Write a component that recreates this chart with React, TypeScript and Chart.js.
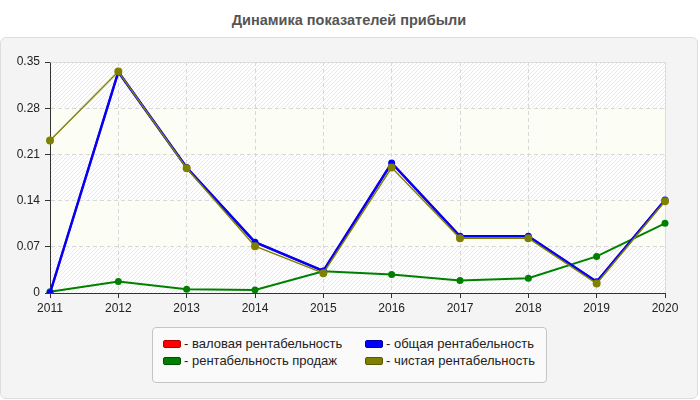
import { useEffect, useRef } from "react";
import { Chart, registerables } from "chart.js";

Chart.register(...registerables);

const YEARS = ["2011", "2012", "2013", "2014", "2015", "2016", "2017", "2018", "2019", "2020"];
// валовая рентабельность is hidden under the blue line in the picture
const GROSS = [0, 0.335, 0.19, 0.077, 0.0335, 0.197, 0.086, 0.086, 0.017, 0.141];
const TOTAL = [0, 0.335, 0.19, 0.077, 0.0335, 0.197, 0.086, 0.086, 0.017, 0.141];
const SALES = [0.002, 0.0173, 0.0056, 0.0046, 0.033, 0.028, 0.019, 0.0224, 0.0554, 0.1056];
const NET = [0.231, 0.3355, 0.189, 0.071, 0.03, 0.19, 0.083, 0.083, 0.0143, 0.139];

const FONT = "'Liberation Sans', Arial, sans-serif";

const LEGEND = [
  { label: "валовая рентабельность", color: "#ff0000", border: "#b00000" },
  { label: "общая рентабельность", color: "#0000ff", border: "#0000a0" },
  { label: "рентабельность продаж", color: "#008000", border: "#005000" },
  { label: "чистая рентабельность", color: "#808000", border: "#585800" },
];

function makeHatch() {
  const c = document.createElement("canvas");
  c.width = 4;
  c.height = 4;
  const g = c.getContext("2d")!;
  g.fillStyle = "#ffffff";
  g.fillRect(0, 0, 4, 4);
  g.strokeStyle = "#e9e9e9";
  g.lineWidth = 1;
  g.beginPath();
  g.moveTo(0, 4);
  g.lineTo(4, 0);
  g.moveTo(-1, 1);
  g.lineTo(1, -1);
  g.moveTo(3, 5);
  g.lineTo(5, 3);
  g.stroke();
  return c;
}

const plotBands = {
  id: "plotBands",
  beforeDraw(chart: any) {
    const { ctx, chartArea: a, scales } = chart;
    const y = scales.y;
    const hatch = ctx.createPattern(makeHatch(), "repeat");
    ctx.save();
    ctx.fillStyle = "#ffffff";
    ctx.fillRect(a.left, a.top, a.width, a.height);
    for (let i = 0; i < y.ticks.length - 1; i++) {
      const y0 = y.getPixelForValue(y.ticks[i].value);
      const y1 = y.getPixelForValue(y.ticks[i + 1].value);
      ctx.fillStyle = i % 2 === 0 ? hatch : "#fcfdf4";
      ctx.fillRect(a.left, y1, a.width, y0 - y1);
    }
    ctx.restore();
  },
  beforeDatasetsDraw(chart: any) {
    const { ctx, chartArea: a } = chart;
    ctx.save();
    ctx.strokeStyle = "#dcdcdc";
    ctx.lineWidth = 1;
    ctx.beginPath();
    ctx.moveTo(Math.round(a.left) + 0.5, Math.round(a.top) + 0.5);
    ctx.lineTo(Math.round(a.right) + 0.5, Math.round(a.top) + 0.5);
    ctx.lineTo(Math.round(a.right) + 0.5, Math.round(a.bottom));
    ctx.stroke();
    ctx.restore();
  },
};

export default function App() {
  const chartRef = useRef<HTMLCanvasElement>(null);
  const chartInstanceRef = useRef<Chart | null>(null);

  useEffect(() => {
    if (!chartRef.current) return;
    if (chartInstanceRef.current) chartInstanceRef.current.destroy();
    const ctx = chartRef.current.getContext("2d");
    if (!ctx) return;

    const line = (label: string, data: number[], color: string, width: number, radius: number, order: number) => ({
      label,
      data,
      borderColor: color,
      backgroundColor: color,
      borderWidth: width,
      pointRadius: radius,
      pointBorderWidth: 0,
      pointBackgroundColor: color,
      tension: 0,
      order,
    });

    chartInstanceRef.current = new Chart(ctx, {
      type: "line",
      data: {
        labels: YEARS,
        datasets: [
          line("валовая рентабельность", GROSS, "#ff0000", 2, 3, 3),
          line("рентабельность продаж", SALES, "#008000", 2, 3.5, 2),
          line("общая рентабельность", TOTAL, "#0000ff", 2.5, 3.5, 1),
          line("чистая рентабельность", NET, "#808000", 1.5, 4, 0),
        ],
      },
      options: {
        responsive: false,
        animation: false,
        layout: { padding: { left: 0, top: 62, right: 35, bottom: 87 } },
        plugins: {
          legend: { display: false },
          title: { display: false },
          tooltip: { enabled: false },
        },
        scales: {
          x: {
            type: "category",
            offset: false,
            afterFit: (s: any) => {
              s.height = 20;
            },
            grid: {
              color: "#d8d8d8",
              offset: false,
              tickLength: 5,
              tickColor: "#333333",
              tickBorderDash: [],
            },
            border: { color: "#333333", width: 1, dash: [4, 3] },
            ticks: {
              color: "#222222",
              font: { family: FONT, size: 12 },
              padding: 3,
              maxRotation: 0,
              autoSkip: false,
            },
          },
          y: {
            min: 0,
            max: 0.35,
            afterFit: (s: any) => {
              s.width = 50;
            },
            grid: {
              color: "#d8d8d8",
              tickLength: 5,
              tickColor: "#333333",
              tickBorderDash: [],
            },
            border: { color: "#333333", width: 1, dash: [4, 3] },
            ticks: {
              stepSize: 0.07,
              color: "#222222",
              font: { family: FONT, size: 12 },
              padding: 5,
              callback: (v: any) => String(Number(Number(v).toFixed(2))),
            },
          },
        },
      },
      plugins: [plotBands],
    });

    return () => {
      if (chartInstanceRef.current) {
        chartInstanceRef.current.destroy();
        chartInstanceRef.current = null;
      }
    };
  }, []);

  return (
    <div style={{ position: "fixed", left: 0, top: 0, width: 700, height: 400, background: "#ffffff", fontFamily: FONT }}>
      <div
        style={{
          position: "absolute",
          left: 0,
          top: 11,
          width: 698,
          textAlign: "center",
          fontSize: 14.5,
          lineHeight: "18px",
          fontWeight: "bold",
          color: "#555555",
        }}
      >
        Динамика показателей прибыли
      </div>
      <div
        style={{
          position: "absolute",
          left: 0,
          top: 37,
          width: 696,
          height: 360,
          background: "#f4f4f4",
          border: "1px solid #dddddd",
          borderRadius: 6,
        }}
      />
      <canvas ref={chartRef} width={700} height={400} style={{ position: "absolute", left: 0, top: 0 }} />
      <div
        style={{
          position: "absolute",
          left: 152,
          top: 327,
          width: 393,
          height: 54,
          background: "#fafafa",
          border: "1px solid #c4c4c4",
          borderRadius: 4,
        }}
      >
        {LEGEND.map((item, i) => (
          <div
            key={item.label}
            style={{
              position: "absolute",
              left: i % 2 === 0 ? 10 : 212,
              top: i < 2 ? 8 : 25,
              display: "flex",
              alignItems: "center",
              fontSize: 13,
              color: "#222222",
              whiteSpace: "nowrap",
              lineHeight: "16px",
            }}
          >
            <span
              style={{
                display: "inline-block",
                width: 16,
                height: 6,
                background: item.color,
                border: `1px solid ${item.border}`,
                borderRadius: 2,
                marginRight: 3,
              }}
            />
            {"- " + item.label}
          </div>
        ))}
      </div>
    </div>
  );
}
